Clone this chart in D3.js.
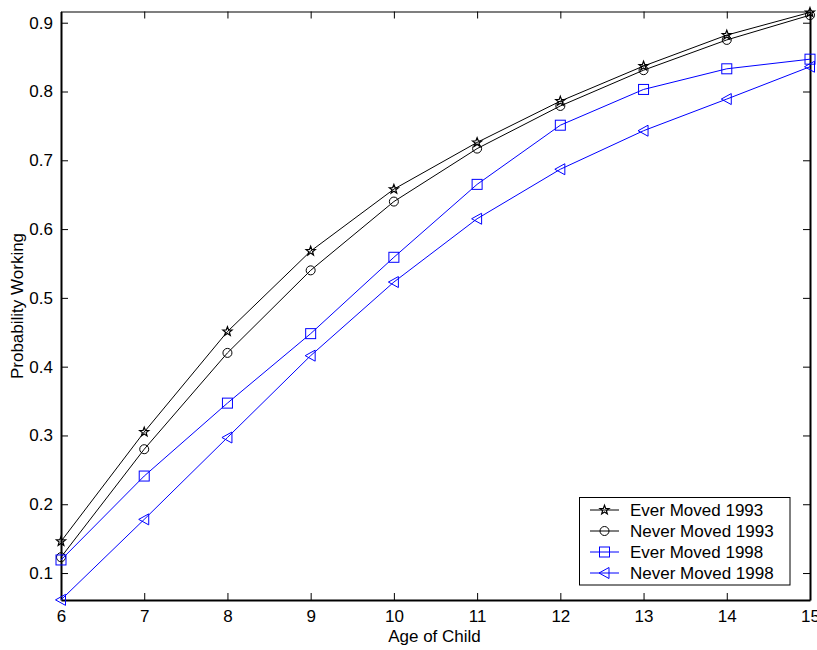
<!DOCTYPE html>
<html>
<head>
<meta charset="utf-8">
<script src="https://cdn.jsdelivr.net/npm/d3@7"></script>
<style>
html,body{margin:0;padding:0;background:#fff;}
svg{display:block;font-family:"Liberation Sans",Arial,Helvetica,sans-serif;}
</style>
</head>
<body>
<svg id="chart" width="817" height="650"></svg>
<script>
const ages = [6, 7, 8, 9, 10, 11, 12, 13, 14, 15];
const everMoved1993  = [0.146, 0.305, 0.451, 0.568, 0.658, 0.726, 0.786, 0.837, 0.882, 0.915];
const neverMoved1993 = [0.123, 0.280, 0.420, 0.540, 0.640, 0.717, 0.779, 0.831, 0.875, 0.911];
const everMoved1998  = [0.119, 0.241, 0.347, 0.448, 0.559, 0.665, 0.751, 0.803, 0.833, 0.847];
const neverMoved1998 = [0.061, 0.178, 0.297, 0.416, 0.523, 0.615, 0.687, 0.743, 0.789, 0.836];
const seriesNames = ["Ever Moved 1993", "Never Moved 1993", "Ever Moved 1998", "Never Moved 1998"];
const xTicks = [6, 7, 8, 9, 10, 11, 12, 13, 14, 15];
const yTicks = [0.1, 0.2, 0.3, 0.4, 0.5, 0.6, 0.7, 0.8, 0.9];

const series = [
  {name: seriesNames[0], values: everMoved1993, color: "#000000", marker: "star"},
  {name: seriesNames[1], values: neverMoved1993, color: "#000000", marker: "circle"},
  {name: seriesNames[2], values: everMoved1998, color: "#0000ff", marker: "square"},
  {name: seriesNames[3], values: neverMoved1998, color: "#0000ff", marker: "triangle"}
];

const svg = d3.select("#chart");
const L = 61, R = 810, T = 11.5, B = 600;
const x = d3.scaleLinear().domain([6, 15]).range([L, R]);
const y = d3.scaleLinear().domain([0.0608, 0.9163]).range([B, T]);
const fontSize = 17;

function drawMarker(g, type, cx, cy, color) {
  if (type === "circle") {
    g.append("circle").attr("cx", cx).attr("cy", cy).attr("r", 4.5)
      .attr("fill", "none").attr("stroke", color).attr("stroke-width", 1);
  } else if (type === "square") {
    g.append("rect").attr("x", cx - 5).attr("y", cy - 5).attr("width", 10).attr("height", 10)
      .attr("fill", "none").attr("stroke", color).attr("stroke-width", 1);
  } else if (type === "triangle") {
    g.append("path").attr("d", `M${cx - 5.5},${cy} L${cx + 4.5},${cy - 5.5} L${cx + 4.5},${cy + 5.5} Z`)
      .attr("fill", "none").attr("stroke", color).attr("stroke-width", 1);
  } else if (type === "star") {
    const pts = [];
    for (let i = 0; i < 10; i++) {
      const r = i % 2 === 0 ? 4.8 : 2.0;
      const a = -Math.PI / 2 + i * Math.PI / 5;
      pts.push([cx + r * Math.cos(a), cy + r * Math.sin(a)]);
    }
    g.append("path").attr("d", "M" + pts.map(p => p.join(",")).join("L") + "Z")
      .attr("fill", "none").attr("stroke", color).attr("stroke-width", 1.2);
  }
}

svg.append("rect").attr("x", L).attr("y", T).attr("width", R - L).attr("height", B - T)
  .attr("fill", "#fff").attr("stroke", "none");

const xAxisB = d3.axisBottom(x).tickValues(xTicks).tickFormat(d3.format("d")).tickSizeInner(-7).tickSizeOuter(0).tickPadding(10);
const xAxisT = d3.axisTop(x).tickValues(xTicks).tickFormat("").tickSizeInner(-7).tickSizeOuter(0);
const yAxisL = d3.axisLeft(y).tickValues(yTicks).tickFormat(d3.format(".1f")).tickSizeInner(-7).tickSizeOuter(0).tickPadding(8);
const yAxisR = d3.axisRight(y).tickValues(yTicks).tickFormat("").tickSizeInner(-7).tickSizeOuter(0);

function styleAxis(g, w) {
  g.select(".domain").attr("stroke", "#000").attr("stroke-width", w);
  g.selectAll(".tick line").attr("stroke", "#000").attr("stroke-width", 1);
  g.selectAll(".tick text").attr("fill", "#000").attr("font-size", fontSize)
    .attr("font-family", "'Liberation Sans', Arial, sans-serif");
}
styleAxis(svg.append("g").attr("transform", `translate(0,${T})`).call(xAxisT), 1.2);
styleAxis(svg.append("g").attr("transform", `translate(${R},0)`).call(yAxisR), 2);
styleAxis(svg.append("g").attr("transform", `translate(0,${B})`).call(xAxisB), 2);
styleAxis(svg.append("g").attr("transform", `translate(${L},0)`).call(yAxisL), 2);

const line = d3.line().x((d, i) => x(ages[i])).y(d => y(d));
series.forEach(s => {
  svg.append("path").datum(s.values).attr("d", line)
    .attr("fill", "none").attr("stroke", s.color).attr("stroke-width", 1);
  const g = svg.append("g");
  s.values.forEach((v, i) => drawMarker(g, s.marker, x(ages[i]), y(v), s.color));
});

svg.append("text").attr("x", (L + R) / 2 - 1).attr("y", 642).attr("text-anchor", "middle")
  .attr("font-size", fontSize).attr("fill", "#000").text("Age of Child");
svg.append("text").attr("transform", `translate(23,306) rotate(-90)`).attr("text-anchor", "middle")
  .attr("font-size", fontSize).attr("fill", "#000").text("Probability Working");

const lg = svg.append("g");
lg.append("rect").attr("x", 579.5).attr("y", 497.5).attr("width", 210.5).attr("height", 87.5)
  .attr("fill", "#fff").attr("stroke", "#000").attr("stroke-width", 1);
series.forEach((s, i) => {
  const yy = 510 + i * 21;
  lg.append("line").attr("x1", 590).attr("x2", 619).attr("y1", yy).attr("y2", yy)
    .attr("stroke", s.color).attr("stroke-width", 1);
  drawMarker(lg, s.marker, 604.5, yy, s.color);
  lg.append("text").attr("x", 630).attr("y", yy + 6).attr("font-size", fontSize)
    .attr("fill", "#000").text(s.name);
});
</script>
</body>
</html>
